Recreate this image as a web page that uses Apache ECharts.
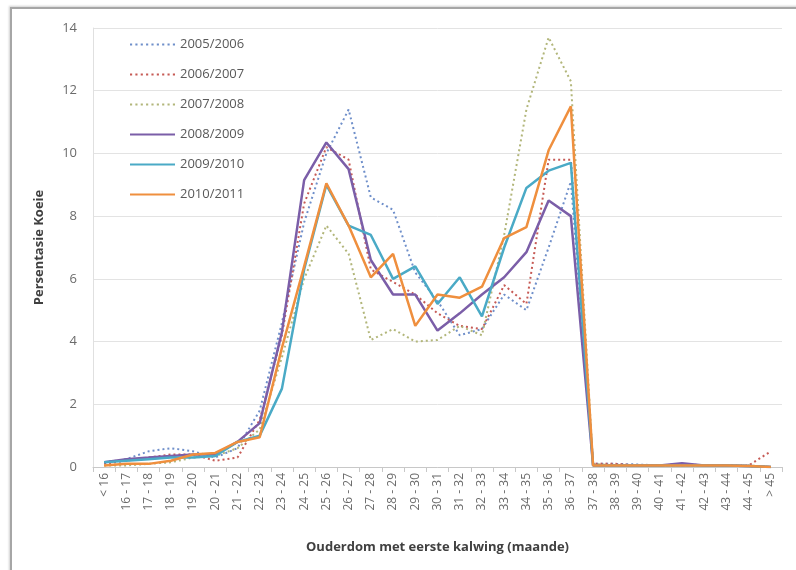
<!DOCTYPE html>
<html>
<head>
<meta charset="utf-8">
<script src="https://cdn.jsdelivr.net/npm/echarts@6/dist/echarts.min.js"></script>
<style>
  html, body { margin: 0; padding: 0; background: #fff; }
  #wrap { position: relative; width: 796px; height: 570px; overflow: hidden; }
  #frame {
    position: absolute; left: 10px; top: 7px; width: 800px; height: 580px;
    border-left: 2px solid #a6a6a6; border-top: 2px solid #a6a6a6;
    box-shadow: -1px -1px 2px #d0d0d0;
  }
  #chart { position: absolute; left: 0; top: 0; width: 796px; height: 570px; }
</style>
</head>
<body>
<div id="wrap">
  <div id="frame"></div>
  <div id="chart"></div>
</div>
<script>
// categorieë: ouderdom met eerste kalwing (maande)
const categories = ['< 16', '16 - 17', '17 - 18', '18 - 19', '19 - 20', '20 - 21', '21 - 22', '22 - 23',
  '23 - 24', '24 - 25', '25 - 26', '26 - 27', '27 - 28', '28 - 29', '29 - 30', '30 - 31', '31 - 32',
  '32 - 33', '33 - 34', '34 - 35', '35 - 36', '36 - 37', '37 - 38', '38 - 39', '39 - 40', '40 - 41',
  '41 - 42', '42 - 43', '43 - 44', '44 - 45', '> 45'];

const seasons = ['2005/2006', '2006/2007', '2007/2008', '2008/2009', '2009/2010', '2010/2011'];

const s2005 = [0.15, 0.25, 0.5, 0.6, 0.5, 0.3, 0.6, 1.8, 4.6, 7.8, 10.0, 11.4, 8.6, 8.2, 6.2, 5.3, 4.2, 4.4, 5.5, 5.0, 7.0, 9.1, 0.1, 0.1, 0.08, 0.05, 0.05, 0.05, 0.05, 0.03, 0.0];
const s2006 = [0.1, 0.2, 0.3, 0.4, 0.4, 0.2, 0.3, 1.5, 4.2, 8.4, 10.2, 9.8, 6.3, 5.9, 5.5, 4.9, 4.5, 4.4, 5.8, 5.2, 9.8, 9.8, 0.1, 0.1, 0.05, 0.05, 0.1, 0.05, 0.05, 0.05, 0.5];
const s2007 = [0.05, 0.05, 0.1, 0.15, 0.3, 0.35, 0.6, 1.2, 3.5, 6.0, 7.7, 6.8, 4.05, 4.4, 4.0, 4.05, 4.5, 4.2, 7.4, 11.4, 13.7, 12.3, 0.1, 0.05, 0.05, 0.05, 0.05, 0.05, 0.05, 0.05, 0.0];
const s2008 = [0.15, 0.25, 0.3, 0.35, 0.4, 0.4, 0.8, 1.4, 4.3, 9.15, 10.35, 9.5, 6.6, 5.5, 5.5, 4.35, 4.9, 5.5, 6.05, 6.85, 8.5, 8.0, 0.05, 0.05, 0.05, 0.05, 0.12, 0.05, 0.05, 0.03, 0.0];
const s2009 = [0.15, 0.2, 0.25, 0.3, 0.3, 0.35, 0.8, 1.0, 2.5, 6.3, 9.0, 7.7, 7.4, 6.0, 6.4, 5.2, 6.05, 4.8, 7.0, 8.9, 9.45, 9.7, 0.05, 0.05, 0.05, 0.05, 0.05, 0.05, 0.05, 0.03, 0.0];
const s2010 = [0.05, 0.1, 0.1, 0.2, 0.4, 0.45, 0.8, 0.95, 3.8, 6.4, 9.05, 7.7, 6.05, 6.8, 4.5, 5.5, 5.4, 5.75, 7.3, 7.65, 10.1, 11.5, 0.05, 0.05, 0.05, 0.05, 0.05, 0.05, 0.05, 0.03, 0.0];

const seriesData = [s2005, s2006, s2007, s2008, s2009, s2010];
const colors = ['#6f8fca', '#c65a55', '#b2b67a', '#7b5ea8', '#4aaac6', '#ef8f3e'];
const dotted = [true, true, true, false, false, false];

// legend swatches: a row of small dots, or one solid bar
let dotPath = 'path://';
for (let k = 0; k < 9; k++) dotPath += 'M' + (k * 5) + ',0h2v2h-2z';
const barPath = 'path://M0,0h43v2h-43z';

const chart = echarts.init(document.getElementById('chart'));

const series = seasons.map((name, i) => ({
  name: name,
  type: 'line',
  data: seriesData[i],
  symbol: 'none',
  z: dotted[i] ? 2 : 3,
  lineStyle: {
    color: colors[i],
    width: dotted[i] ? 2 : 2.5,
    type: dotted[i] ? [2, 3] : 'solid'
  },
  itemStyle: { color: colors[i] }
}));

const option = {
  animation: false,
  textStyle: { fontFamily: 'Open Sans, DejaVu Sans, sans-serif' },
  grid: { left: 93, right: 14, top: 28, bottom: 103 },
  legend: {
    orient: 'vertical',
    left: 130,
    top: 38,
    padding: 0,
    itemWidth: 45,
    itemHeight: 3,
    itemGap: 17,
    textStyle: { color: '#595959', fontSize: 13 },
    data: seasons.map((s, i) => ({ name: s, icon: dotted[i] ? dotPath : barPath }))
  },
  xAxis: {
    type: 'category',
    data: categories,
    name: 'Ouderdom met eerste kalwing (maande)',
    nameLocation: 'middle',
    nameGap: 74,
    nameTextStyle: { color: '#404040', fontSize: 13, fontWeight: 'bold' },
    axisLine: { lineStyle: { color: '#c8c8c8' } },
    axisTick: { show: true, length: 5, lineStyle: { color: '#c8c8c8' } },
    axisLabel: { rotate: 90, color: '#6b6b6b', fontSize: 12, margin: 6 }
  },
  yAxis: {
    type: 'value',
    min: 0,
    max: 14,
    interval: 2,
    name: 'Persentasie Koeie',
    nameLocation: 'middle',
    nameGap: 47,
    nameTextStyle: { color: '#404040', fontSize: 13, fontWeight: 'bold' },
    axisLine: { show: true, lineStyle: { color: '#e0e0e0' } },
    axisLabel: { color: '#6b6b6b', fontSize: 13, margin: 16 },
    splitLine: { lineStyle: { color: '#e3e3e3' } }
  },
  series: series
};

chart.setOption(option);
</script>
</body>
</html>
